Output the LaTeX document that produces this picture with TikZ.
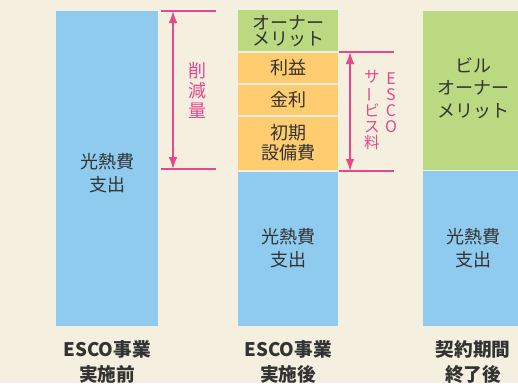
\documentclass[tikz,border=0pt]{standalone}
\usepackage{fontspec}
\setmainfont{Noto Sans CJK JP}
\usepackage{graphicx}
\usetikzlibrary{arrows.meta,positioning,calc}
\definecolor{bgcol}{HTML}{F5EFDF}
\definecolor{costblue}{HTML}{8FCBEF}
\definecolor{ownergreen}{HTML}{BAD981}
\definecolor{feeorange}{HTML}{FFCD70}
\definecolor{dimpink}{HTML}{E8478C}
\definecolor{inktext}{HTML}{333333}
\tikzstyle{seg} = [draw=bgcol,line width=0.9pt]
\tikzstyle{bartext} = [text=inktext,align=center,inner sep=0pt,font=\fontsize{13.5}{17}\selectfont]
\tikzstyle{caption} = [text=inktext,align=center,inner sep=0pt,font=\fontsize{14}{19}\selectfont\bfseries]
\tikzstyle{dimline} = [draw=dimpink,line width=0.8pt]
\tikzstyle{dimtext} = [text=dimpink,align=center,inner sep=0pt]
\tikzset{>={Latex[length=9pt,width=6.5pt]}}
\newcommand{\vbar}{\rotatebox[origin=c]{90}{ー}}

\begin{document}
\begin{tikzpicture}[x=0.75pt,y=-0.75pt]
    \fill [bgcol] (0,0) rectangle (518,383);
    \useasboundingbox (0,0) rectangle (518,383);

    % before
    \fill [costblue] (56,11) rectangle (158,326);
    \node [bartext] (cost1) at (107,173) {光熱費\\支出};
    \node [caption] (cap1) at (107,362) {ESCO事業\\実施前};

    % after
    \filldraw [seg,fill=costblue] (237,171) rectangle (339,326.5);
    \filldraw [seg,fill=feeorange] (237,116) rectangle (339,171);
    \filldraw [seg,fill=feeorange] (237,84) rectangle (339,116);
    \filldraw [seg,fill=feeorange] (237,52) rectangle (339,84);
    \filldraw [seg,fill=ownergreen] (237,9.5) rectangle (339,52);
    \node [bartext,font=\fontsize{13.5}{12}\selectfont] (merit2) at (288,31) {オーナー\\メリット};
    \node [bartext] (profit) at (288,67.5) {利益};
    \node [bartext] (interest) at (288,99.5) {金利};
    \node [bartext,font=\fontsize{13.5}{15}\selectfont] (initial) at (288,143) {初期\\設備費};
    \node [bartext] (cost2) at (288,248.5) {光熱費\\支出};
    \node [caption] (cap2) at (288,362) {ESCO事業\\実施後};

    % end of contract
    \filldraw [seg,fill=costblue] (422,170.5) rectangle (524,326.5);
    \filldraw [seg,fill=ownergreen] (422,10.5) rectangle (524,170.5);
    \node [bartext] (merit3) at (473,88) {ビル\\オーナー\\メリット};
    \node [bartext] (cost3) at (473,248.5) {光熱費\\支出};
    \node [caption] (cap3) at (473,362) {契約期間\\終了後};

    % saving
    \coordinate (s1) at (161,11);
    \coordinate (s2) at (216,11);
    \coordinate (s3) at (161,169);
    \coordinate (s4) at (216,169);
    \draw [dimline] (s1) -- (s2);
    \draw [dimline] (s3) -- (s4);
    \draw [dimline,line width=1.1pt,<->] (173,11) coordinate (sa) -- (173,169) coordinate (sb);
    \node [dimtext,font=\fontsize{13.5}{15}\selectfont] (saving) at (197.5,90.5) {削\\減\\量};

    % service fee
    \coordinate (f1) at (339,52);
    \coordinate (f2) at (394,52);
    \coordinate (f3) at (339,171);
    \coordinate (f4) at (394,171);
    \draw [dimline] (f1) -- (f2);
    \draw [dimline] (f3) -- (f4);
    \draw [dimline,line width=1.1pt,<->] (350,52) coordinate (fa) -- (350,171) coordinate (fb);
    \node [dimtext,font=\fontsize{11.7}{11.7}\selectfont] (fee) at (372,110) {サ\\\vbar\\ビ\\ス\\料};
    \node [dimtext,font=\fontsize{12}{12}\selectfont] (esco) at (391,103) {E\\S\\C\\O};
\end{tikzpicture}
\end{document}
